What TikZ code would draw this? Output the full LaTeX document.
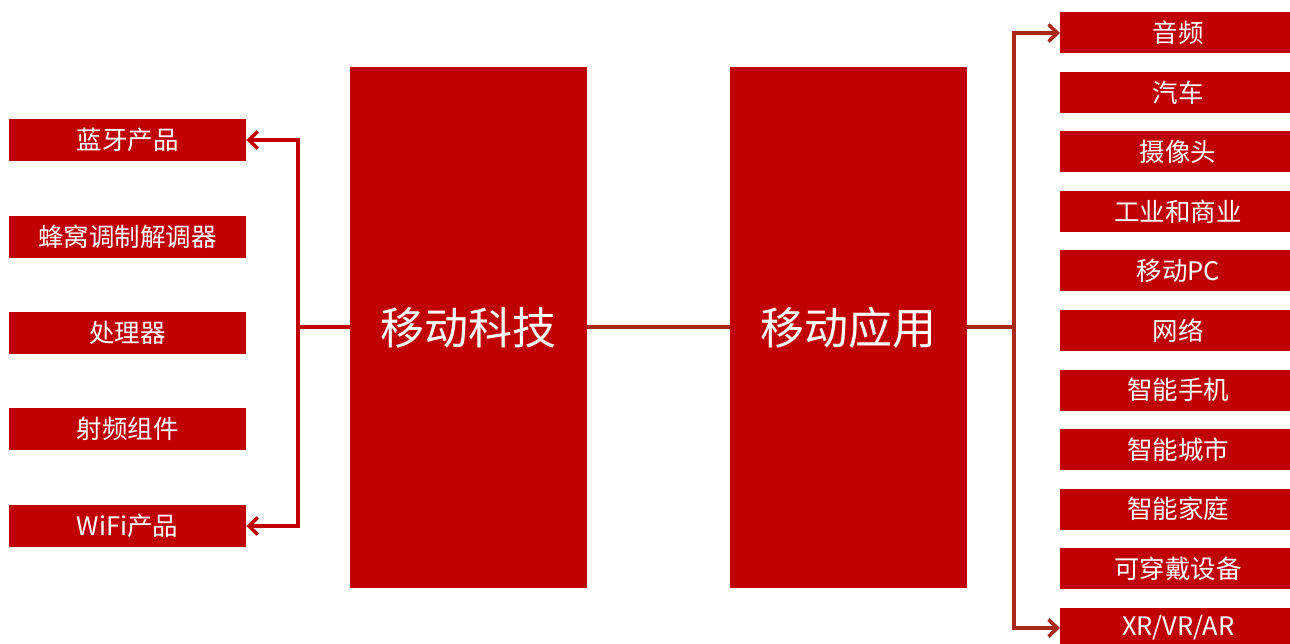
\documentclass[tikz,border=0pt]{standalone}
\usepackage{fontspec}
\setmainfont{Noto Sans CJK SC}
\usetikzlibrary{arrows.meta}
\definecolor{boxred}{HTML}{C00000}
\definecolor{linedark}{HTML}{A8281A}
\tikzset{
  smallbox/.style={fill=boxred, draw=none, minimum width=237pt, minimum height=42pt, inner sep=0pt, text=white, font=\fontsize{25.5}{25.5}\selectfont, anchor=center},
  rbox/.style={fill=boxred, draw=none, minimum width=240pt, minimum height=41pt, inner sep=0pt, text=white, font=\fontsize{25.5}{25.5}\selectfont, anchor=west},
  bigbox/.style={fill=boxred, draw=none, minimum width=237pt, minimum height=521pt, inner sep=0pt, text=white, font=\fontsize{44}{44}\selectfont},
  leftline/.style={draw=boxred, line width=3.5pt},
  rightline/.style={draw=linedark, line width=3.5pt},
  tipl/.style={-{Straight Barb[length=9pt,width=17pt,line width=3.5pt]}},
}
\begin{document}
\begin{tikzpicture}[x=1pt,y=-1pt]
\clip (0,0) rectangle (1290,644);
\fill[white] (0,0) rectangle (1290,644);
% central boxes
\node[bigbox] (tech) at (468.5,327.5) {移动科技};
\node[bigbox] (app) at (848.5,327.5) {移动应用};
% left boxes
\node[smallbox] (l1) at (127.5,140) {蓝牙产品};
\node[smallbox] (l2) at (127.5,237) {蜂窝调制解调器};
\node[smallbox] (l3) at (127.5,333) {处理器};
\node[smallbox] (l4) at (127.5,429) {射频组件};
\node[smallbox] (l5) at (127.5,526) {WiFi产品};
% right boxes
\foreach \t [count=\i] in {音频,汽车,摄像头,工业和商业,移动PC,网络,智能手机,智能城市,智能家庭,可穿戴设备,XR/VR/AR}{
  \node[rbox] (r\i) at (1060,{33+59.5*(\i-1)}) {\hspace*{-4pt}\makebox[230pt]{\t}};
}
% left bracket
\coordinate (lb) at (298,327);
\draw[leftline] (tech.west |- lb) -- (lb);
\draw[leftline,tipl] (298,327) |- (l1.east);
\draw[leftline,tipl] (298,327) |- (l5.east);
% middle
\draw[rightline] (tech.east |- lb) -- (app.west |- lb);
% right bracket
\coordinate (rb) at (1014,327);
\draw[rightline] (app.east |- rb) -- (rb);
\draw[rightline,tipl] (rb) |- (r1.west);
\draw[rightline,tipl] (rb) |- (r11.west);
\end{tikzpicture}
\end{document}
